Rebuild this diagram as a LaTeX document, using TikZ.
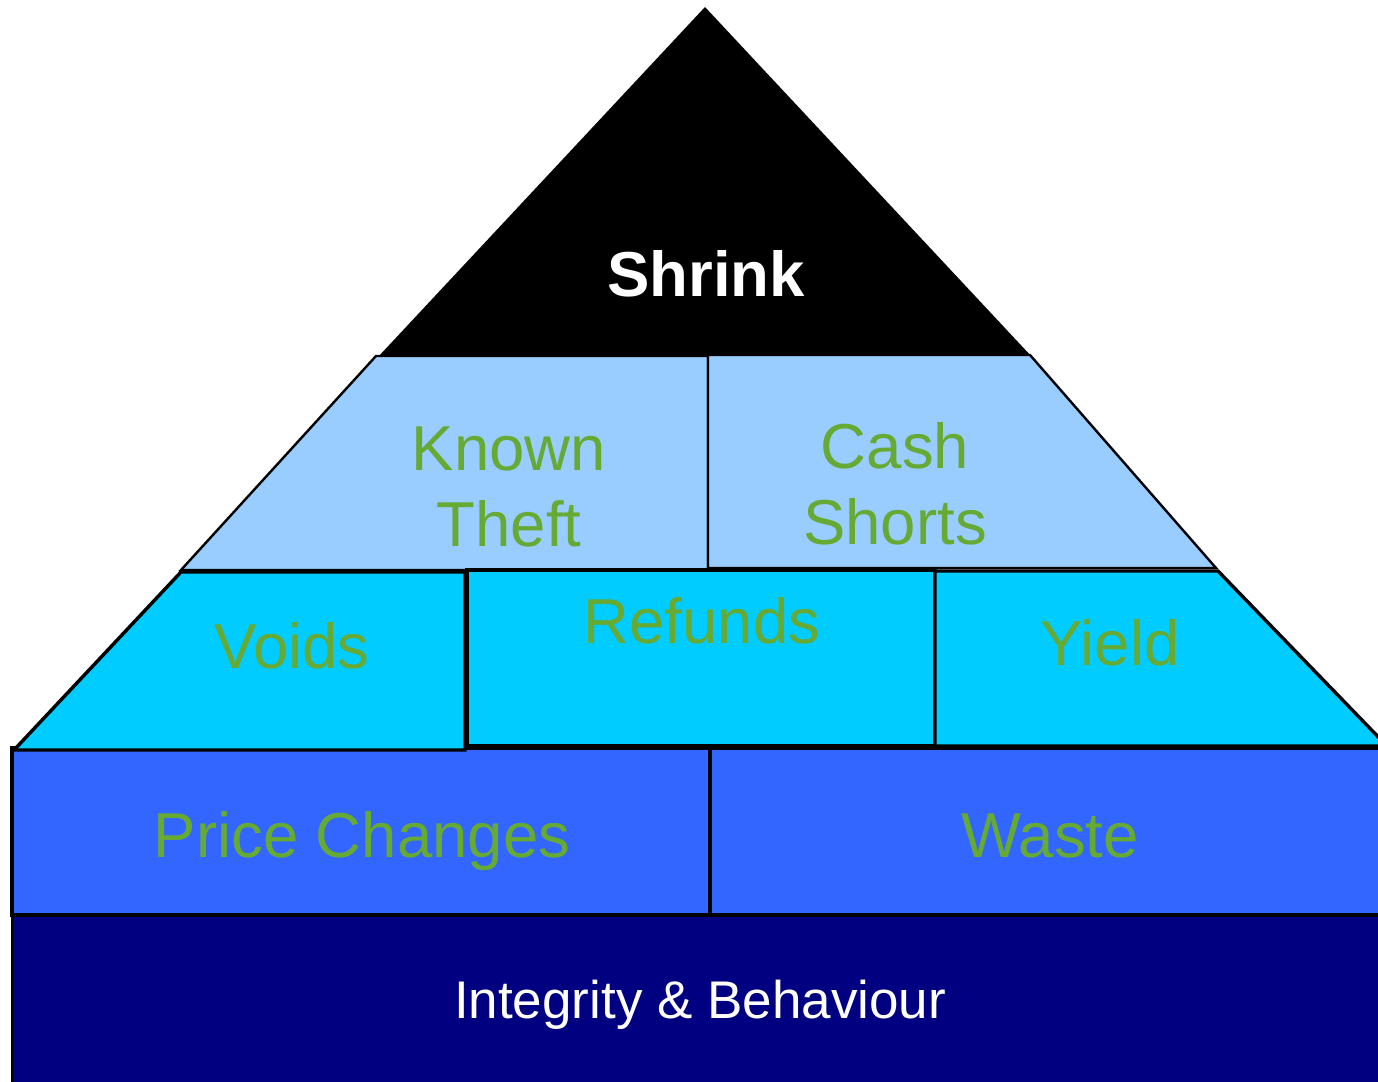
\documentclass[tikz,border=0pt]{standalone}
\usepackage{fontspec}
\setmainfont{Liberation Sans}
\definecolor{tierTop}{HTML}{99CCFF}
\definecolor{tierMid}{HTML}{00CCFF}
\definecolor{tierLow}{HTML}{3366FF}
\definecolor{tierBase}{HTML}{000080}
\definecolor{leafText}{HTML}{66AA33}
\begin{document}
\begin{tikzpicture}[x=1pt,y=-1pt,
  block/.style={draw=black,line width=3.4pt,line join=miter},
  thinblock/.style={draw=black,line width=2.4pt,line join=miter},
  leaf/.style={text=leafText,font=\fontsize{63.5}{75}\selectfont,anchor=base,inner sep=0pt},
  whitelabel/.style={text=white,anchor=base,inner sep=0pt}]
\useasboundingbox (0,0) rectangle (1378,1081);

% apex
\fill[black] (705,7) -- (1032,357) -- (378,357) -- cycle;
\node[whitelabel,font=\fontsize{63.5}{75}\selectfont\bfseries] (shrink) at (706,296) {Shrink};

% upper tier
\path[thinblock,fill=tierTop] (376,356) -- (708,356) -- (708,570) -- (181,570) -- cycle;
\path[thinblock,fill=tierTop] (708,355) -- (1030,355) -- (1216,568) -- (708,568) -- cycle;
\node[leaf] (known) at (509,470) {Known};
\node[leaf] (theft) at (509,546) {Theft};
\node[leaf] (cash) at (895,468) {Cash};
\node[leaf] (shorts) at (895,544) {Shorts};

% foundation
\path[block,line width=2.4pt,fill=tierBase] (12,915) rectangle (1395,1095);
\node[whitelabel,font=\fontsize{53}{60}\selectfont] (integrity) at (700,1018) {Integrity \& Behaviour};

% lower tier
\path[block,fill=tierLow] (12,748) rectangle (710,915);
\path[block,fill=tierLow] (710,748) rectangle (1395,915);
\node[leaf] (price) at (362,857) {Price Changes};
\node[leaf] (waste) at (1050,857) {Waste};

% middle tier
\path[block,fill=tierMid] (181,572) -- (465,572) -- (465,750) -- (14,750) -- cycle;
\path[block,fill=tierMid] (467,570) rectangle (935,746);
\path[block,fill=tierMid] (935,571) -- (1218,571) -- (1387,746) -- (935,746) -- cycle;
\node[leaf] (voids) at (292,668) {Voids};
\node[leaf] (refunds) at (702,643) {Refunds};
\node[leaf] (yield) at (1110,665) {Yield};
\end{tikzpicture}
\end{document}
